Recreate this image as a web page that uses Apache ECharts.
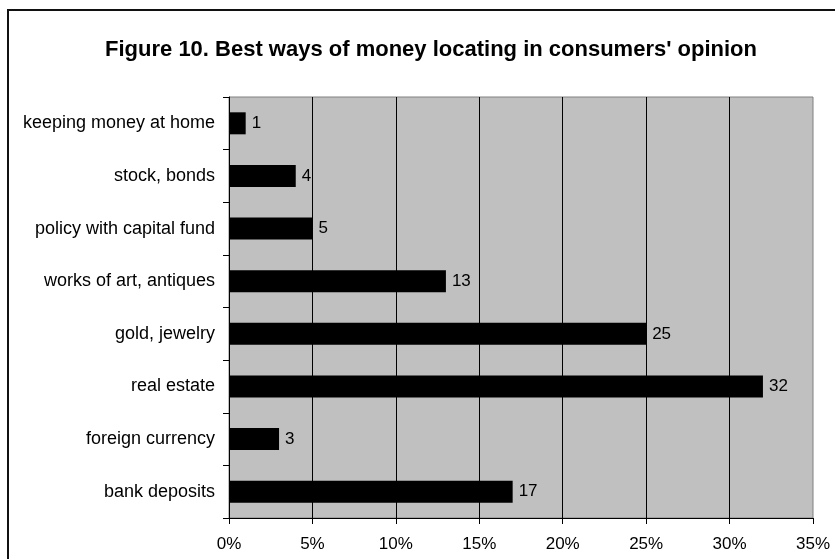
<!DOCTYPE html>
<html>
<head>
<meta charset="utf-8">
<script src="https://cdn.jsdelivr.net/npm/echarts@6/dist/echarts.min.js"></script>
<style>
  html, body { margin: 0; padding: 0; background: #fff; }
  #chart { width: 835px; height: 559px; }
</style>
</head>
<body>
<div id="chart"></div>
<script>
// Categories listed bottom to top, as the category axis stacks them
const categories = [
  'bank deposits',
  'foreign currency',
  'real estate',
  'gold, jewelry',
  'works of art, antiques',
  'policy with capital fund',
  'stock, bonds',
  'keeping money at home'
];
// Share of respondents, percent
const shares = [17, 3, 32, 25, 13, 5, 4, 1];
const xTicks = { min: 0, max: 35, step: 5 };
const titleText = "Figure 10. Best ways of money locating in consumers' opinion";

const FONT = "'Liberation Sans', Arial, sans-serif";

const chart = echarts.init(document.getElementById('chart'), null, { renderer: 'canvas' });

chart.setOption({
  animation: false,
  backgroundColor: '#ffffff',
  textStyle: { fontFamily: FONT },
  graphic: [{
    type: 'rect',
    shape: { x: 8, y: 10, width: 1000, height: 1000 },
    style: { fill: 'none', stroke: '#111111', lineWidth: 2 },
    silent: true,
    z: 0
  }],
  title: {
    text: titleText,
    left: 426,
    top: 34,
    textAlign: 'center',
    textStyle: { fontFamily: FONT, fontSize: 22, fontWeight: 'bold', color: '#000' }
  },
  grid: {
    left: 229,
    right: 22,
    top: 97,
    bottom: 41,
    show: true,
    backgroundColor: '#C0C0C0',
    borderColor: '#808080',
    borderWidth: 1,
    containLabel: false
  },
  xAxis: {
    type: 'value',
    min: xTicks.min,
    max: xTicks.max,
    interval: xTicks.step,
    axisLine: { show: true, lineStyle: { color: '#000', width: 1 } },
    axisTick: { show: true, inside: false, length: 6, lineStyle: { color: '#000' } },
    axisLabel: {
      formatter: '{value}%',
      margin: 18,
      fontFamily: FONT,
      fontSize: 17,
      color: '#000'
    },
    splitLine: {
      show: true,
      showMinLine: false,
      showMaxLine: false,
      lineStyle: { color: '#000', width: 1 }
    }
  },
  yAxis: {
    type: 'category',
    data: categories,
    axisLine: { show: true, lineStyle: { color: '#000', width: 1 } },
    axisTick: { show: true, inside: false, length: 6, alignWithLabel: false, lineStyle: { color: '#000' } },
    axisLabel: {
      margin: 14,
      fontFamily: FONT,
      fontSize: 18,
      color: '#000'
    },
    splitLine: { show: false }
  },
  series: [{
    type: 'bar',
    data: shares,
    barWidth: 22,
    itemStyle: { color: '#000000', borderColor: '#000', borderWidth: 0 },
    label: {
      show: true,
      position: 'right',
      distance: 6,
      fontFamily: FONT,
      fontSize: 17,
      color: '#000',
      formatter: p => String(p.value)
    }
  }]
});
</script>
</body>
</html>
